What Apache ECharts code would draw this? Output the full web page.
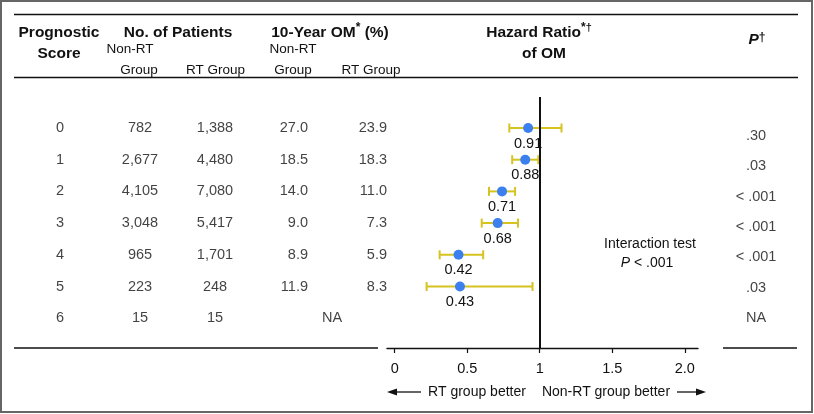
<!DOCTYPE html>
<html><head><meta charset="utf-8">
<script src="https://cdn.jsdelivr.net/npm/echarts@6/dist/echarts.min.js"></script>
<style>html,body{margin:0;padding:0;background:#fff}#c{width:814px;height:414px}</style>
</head><body><div id="c"></div><script>
// ---- data ----
const scores = ['0','1','2','3','4','5','6'];
const nonRtPatients = ['782','2,677','4,105','3,048','965','223','15'];
const rtPatients = ['1,388','4,480','7,080','5,417','1,701','248','15'];
const omNonRt = ['27.0','18.5','14.0','9.0','8.9','11.9'];
const omRt = ['23.9','18.3','11.0','7.3','5.9','8.3'];
const omMissing = 'NA';
const hrPoint = [0.92, 0.90, 0.74, 0.71, 0.44, 0.45];
const hrLabel = ['0.91','0.88','0.71','0.68','0.42','0.43'];
const ciLow = [0.79, 0.81, 0.65, 0.60, 0.31, 0.22];
const ciHigh = [1.15, 0.99, 0.83, 0.85, 0.61, 0.95];
const pValues = ['.30','.03','< .001','< .001','< .001','.03','NA'];
const xTicks = [0, 0.5, 1, 1.5, 2];
const xTickLabels = ['0','0.5','1','1.5','2.0'];

// ---- style ----
const FF = '"Liberation Sans", Arial, Helvetica, sans-serif';
const TXT = '#111';
const BLUE = '#3b80ee';
const GOLD = '#d6c320';
const BODY = 14.5;

const chart = echarts.init(document.getElementById('c'), null, {renderer: 'canvas'});

const mctx = document.createElement('canvas').getContext('2d');
function tw(text, size, weight, style) {
  mctx.font = (style || 'normal') + ' ' + (weight || 'normal') + ' ' + size + 'px ' + FF;
  return mctx.measureText(text).width;
}
// header with superscripts, centred at cx
function header(parts, cx, y) {
  const widths = parts.map(p => tw(p.t, p.s, p.w, p.i));
  const total = widths.reduce((a, b) => a + b, 0);
  let x = cx - total / 2;
  const els = [];
  parts.forEach((p, k) => {
    els.push({type: 'text', x: x, y: y + (p.dy || 0), silent: true,
      style: {text: p.t, fontSize: p.s, fontWeight: p.w || 'normal', fontStyle: p.i || 'normal',
        fontFamily: FF, fill: TXT, align: 'left', verticalAlign: 'middle'}});
    x += widths[k];
  });
  return els;
}
function simple(t, cx, y, size, weight, align) {
  return {type: 'text', x: cx, y: y, silent: true,
    style: {text: t, fontSize: size, fontWeight: weight || 'normal', fontFamily: FF, fill: TXT,
      align: align || 'center', verticalAlign: 'middle'}};
}
function hline(x1, x2, y, w) {
  return {type: 'line', silent: true, shape: {x1: x1, y1: y, x2: x2, y2: y}, style: {stroke: '#111', lineWidth: w || 1.4}};
}

const HB = 15.5;
const graphics = [
  {type: 'rect', silent: true, shape: {x: 1, y: 1, width: 811, height: 411}, style: {fill: 'none', stroke: '#666', lineWidth: 2}},
  hline(14, 798, 14.5),
  hline(14, 798, 77.5),
  hline(14, 378, 348),
  hline(723, 797, 348),
  simple('Prognostic', 59, 33, HB, 'bold'),
  simple('Score', 59, 54, HB, 'bold'),
  simple('No. of Patients', 178, 33, HB, 'bold'),
  simple('Non-RT', 130, 49, 13.5),
  simple('Group', 139, 70, 13.5),
  simple('RT Group', 215.5, 70, 13.5),
  simple('Non-RT', 293, 49, 13.5),
  simple('Group', 293, 70, 13.5),
  simple('RT Group', 371, 70, 13.5),
  ...header([{t: '10-Year OM', s: HB, w: 'bold'}, {t: '*', s: 12, w: 'bold', dy: -5}, {t: ' (%)', s: HB, w: 'bold'}], 330, 33),
  ...header([{t: 'Hazard Ratio', s: HB, w: 'bold'}, {t: '*', s: 12, w: 'bold', dy: -5}, {t: '\u2020', s: 11, w: 'bold', dy: -5}], 539, 33),
  simple('of OM', 544, 54, HB, 'bold'),
  ...header([{t: 'P', s: HB, w: 'bold', i: 'italic'}, {t: '\u2020', s: 12, w: 'bold', dy: -2}], 757, 40),
  simple('Interaction test', 650, 244, 14),
  ...header([{t: 'P', s: 14, i: 'italic'}, {t: ' < .001', s: 14}], 647, 263),
  simple('RT group better', 477, 392, 14),
  simple('Non-RT group better', 606, 392, 14),
  {type: 'line', silent: true, shape: {x1: 393, y1: 392, x2: 421, y2: 392}, style: {stroke: '#111', lineWidth: 1.3}},
  {type: 'polygon', silent: true, shape: {points: [[387, 392], [397, 388.5], [397, 395.5]]}, style: {fill: '#111'}},
  {type: 'line', silent: true, shape: {x1: 677, y1: 392, x2: 700, y2: 392}, style: {stroke: '#111', lineWidth: 1.3}},
  {type: 'polygon', silent: true, shape: {points: [[706, 392], [696, 388.5], [696, 395.5]]}, style: {fill: '#111'}}
];

function tableCol(values, x, align, rowFn) {
  return {
    type: 'scatter', xAxisIndex: 1, yAxisIndex: 1, symbolSize: 1, silent: true,
    itemStyle: {color: 'rgba(0,0,0,0)'},
    data: values.map((v, i) => [x, rowFn ? rowFn(i) : i, v]),
    label: {show: true, position: 'inside', align: align, verticalAlign: 'middle',
      formatter: p => p.value[2], color: TXT, fontSize: BODY, fontFamily: FF},
    z: 5
  };
}

const option = {
  animation: false,
  backgroundColor: '#fff',
  grid: [
    {left: 387, top: 97, width: 311, height: 251},
    {left: 0, top: 97, width: 814, height: 251}
  ],
  xAxis: [
    {type: 'value', gridIndex: 0, min: -0.053, max: 2.091, position: 'bottom',
      axisLine: {show: true, onZero: false, lineStyle: {color: '#111', width: 1.4}},
      axisTick: {show: true, length: 5, customValues: xTicks, lineStyle: {color: '#111', width: 1.2}},
      axisLabel: {show: true, customValues: xTicks, margin: 13, fontSize: 14.5, fontFamily: FF, color: TXT,
        formatter: v => { const k = xTicks.indexOf(v); return k >= 0 ? xTickLabels[k] : ''; }},
      splitLine: {show: false}},
    {type: 'value', gridIndex: 1, min: 0, max: 814, show: false}
  ],
  yAxis: [
    {type: 'value', gridIndex: 0, min: -0.978, max: 6.94, inverse: true, show: false},
    {type: 'value', gridIndex: 1, min: -0.978, max: 6.94, inverse: true, show: false}
  ],
  graphic: graphics,
  series: [
    {
      type: 'custom', xAxisIndex: 0, yAxisIndex: 0, z: 2, silent: true,
      data: ciLow.map((lo, i) => [lo, ciHigh[i], i]),
      encode: {x: [0, 1], y: 2},
      renderItem: (params, api) => {
        const a = api.coord([api.value(0), api.value(2)]);
        const b = api.coord([api.value(1), api.value(2)]);
        const h = 4.5;
        const st = {stroke: GOLD, lineWidth: 2};
        return {type: 'group', children: [
          {type: 'line', shape: {x1: a[0], y1: a[1], x2: b[0], y2: b[1]}, style: st},
          {type: 'line', shape: {x1: a[0], y1: a[1] - h, x2: a[0], y2: a[1] + h}, style: st},
          {type: 'line', shape: {x1: b[0], y1: b[1] - h, x2: b[0], y2: b[1] + h}, style: st}
        ]};
      }
    },
    {
      type: 'scatter', xAxisIndex: 0, yAxisIndex: 0, z: 3, silent: true, data: [],
      markLine: {silent: true, symbol: ['none', 'none'], label: {show: false},
        lineStyle: {color: '#111', width: 2, type: 'solid'}, data: [{xAxis: 1}]}
    },
    {
      type: 'scatter', xAxisIndex: 0, yAxisIndex: 0, z: 4, silent: true,
      symbolSize: 10, itemStyle: {color: BLUE, opacity: 1},
      data: hrPoint.map((v, i) => [v, i, hrLabel[i]]),
      label: {show: true, position: 'bottom', distance: 3, formatter: p => p.value[2],
        color: TXT, fontSize: BODY, fontFamily: FF}
    },
    tableCol(scores, 60, 'center'),
    tableCol(nonRtPatients, 140, 'center'),
    tableCol(rtPatients, 215, 'center'),
    tableCol(omNonRt, 308, 'right'),
    tableCol(omRt, 387, 'right'),
    tableCol([omMissing], 332, 'center', () => 6),
    tableCol(pValues, 756, 'center', i => (8 + 30.33 * i) / 31.7)
  ]
};
chart.setOption(option);
</script></body></html>
